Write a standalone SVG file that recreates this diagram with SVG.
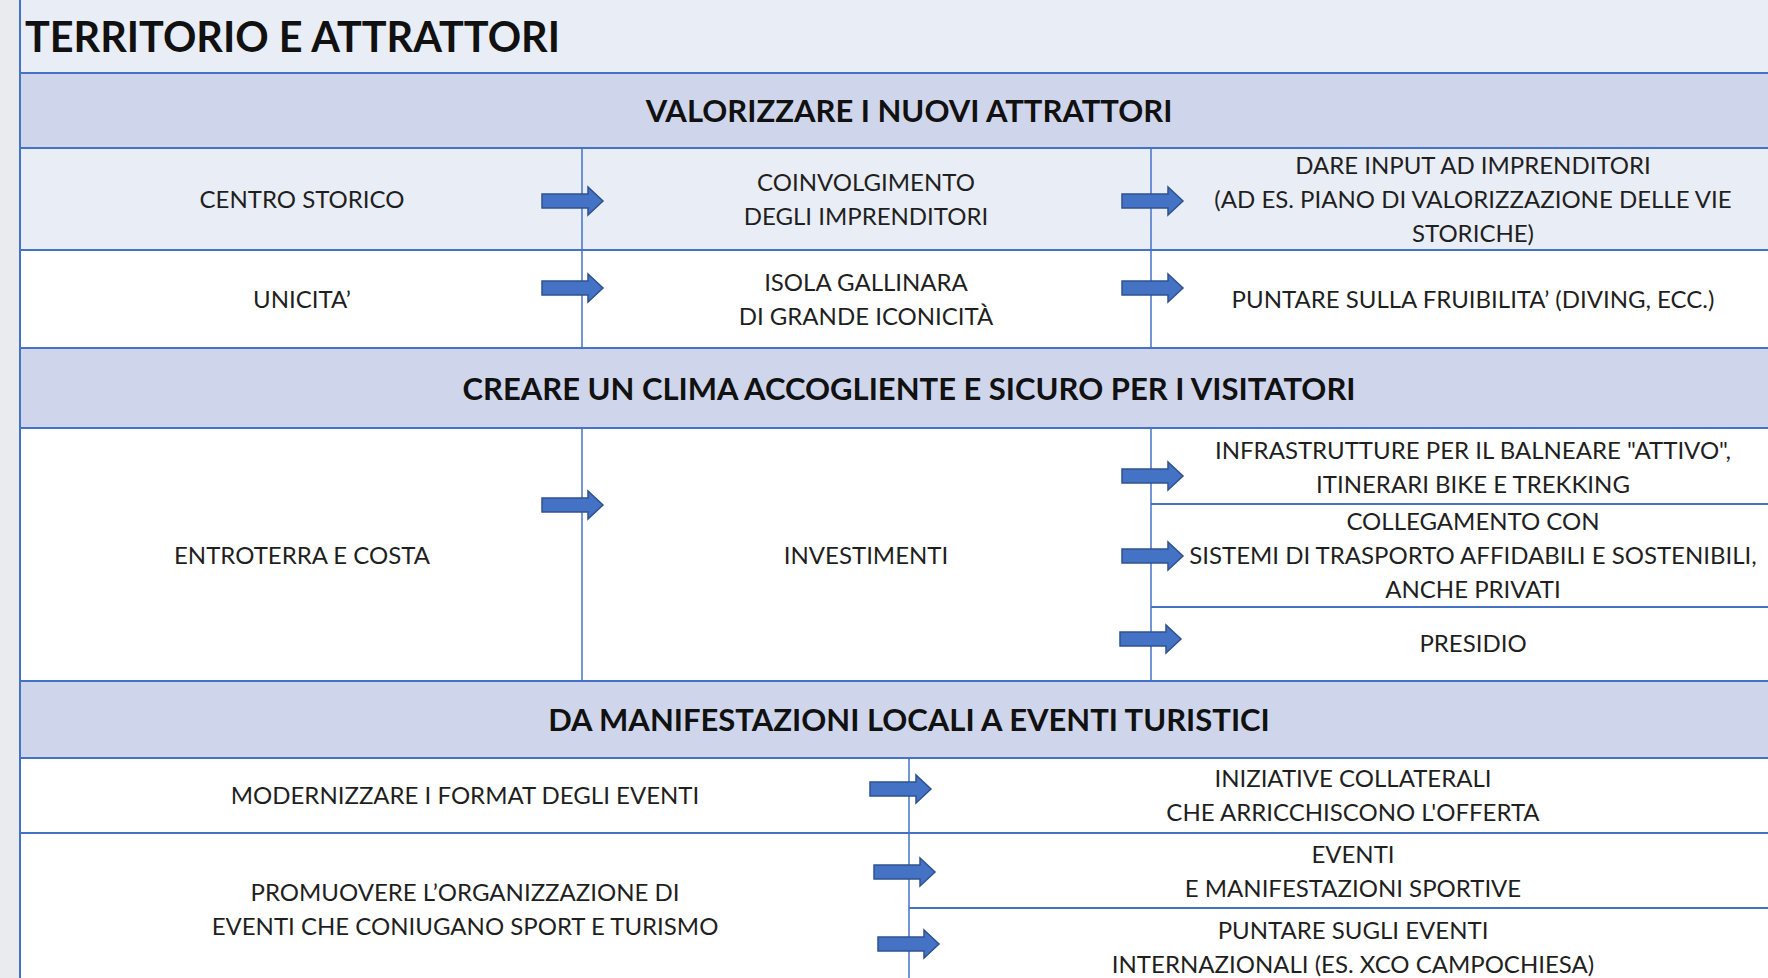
<svg xmlns="http://www.w3.org/2000/svg" width="1768" height="978" viewBox="0 0 1768 978">
<style>
.t{font-family:Lato,"Open Sans","Liberation Sans",sans-serif;fill:#1f1f1f;text-anchor:middle}
.b{font-size:24px}
.h{font-size:31px;font-weight:bold;fill:#111}
.ln{stroke:#4472c4;stroke-width:2;fill:none}
.vl{stroke:#4472c4;stroke-width:1.5;fill:none}
.arr{fill:#4472c4;stroke:#2f528f;stroke-width:1.5}
</style>
<defs>
<path id="ar" d="M0,-7 H46 V-14 L61,0 L46,14 V7 H0 Z"/>
</defs>
<rect x="0" y="0" width="1768" height="978" fill="#ffffff"/>
<rect x="0" y="0" width="20" height="978" fill="#eaebee"/>
<rect x="20" y="0" width="1748" height="73" fill="#e9edf6"/>
<rect x="20" y="73" width="1748" height="75" fill="#cfd6eb"/>
<rect x="20" y="148" width="1748" height="102" fill="#e9edf6"/>
<rect x="20" y="348" width="1748" height="80" fill="#cfd6eb"/>
<rect x="20" y="681" width="1748" height="77" fill="#cfd6eb"/>

<g id="grid">
<line class="ln" x1="20" y1="0" x2="20" y2="978"/>
<line class="ln" x1="20" y1="73" x2="1768" y2="73"/>
<line class="ln" x1="20" y1="148" x2="1768" y2="148"/>
<line class="ln" x1="20" y1="250" x2="1768" y2="250"/>
<line class="ln" x1="20" y1="348" x2="1768" y2="348"/>
<line class="ln" x1="20" y1="428" x2="1768" y2="428"/>
<line class="ln" x1="20" y1="681" x2="1768" y2="681"/>
<line class="ln" x1="20" y1="758" x2="1768" y2="758"/>
<line class="ln" x1="20" y1="833" x2="1768" y2="833"/>
<line class="ln" x1="1151" y1="504" x2="1768" y2="504"/>
<line class="ln" x1="1151" y1="607" x2="1768" y2="607"/>
<line class="ln" x1="909" y1="908" x2="1768" y2="908"/>
<line class="vl" x1="582" y1="148" x2="582" y2="348"/>
<line class="vl" x1="1151" y1="148" x2="1151" y2="348"/>
<line class="vl" x1="582" y1="428" x2="582" y2="681"/>
<line class="vl" x1="1151" y1="428" x2="1151" y2="681"/>
<line class="vl" x1="909" y1="758" x2="909" y2="978"/>
</g>

<g id="title"><text class="t" x="25" y="52" textLength="535" lengthAdjust="spacingAndGlyphs" style="text-anchor:start;font-size:42px;font-weight:bold;fill:#111">TERRITORIO E ATTRATTORI</text></g>
<g id="header1"><text class="t h" x="909" y="122">VALORIZZARE I NUOVI ATTRATTORI</text></g>
<g id="header2"><text class="t h" x="909" y="400">CREARE UN CLIMA ACCOGLIENTE E SICURO PER I VISITATORI</text></g>
<g id="header3"><text class="t h" x="909" y="731">DA MANIFESTAZIONI LOCALI A EVENTI TURISTICI</text></g>

<g id="centro-storico"><text class="t b" x="302" y="208">CENTRO STORICO</text></g>
<g id="coinvolgimento"><text class="t b" x="866" y="191">COINVOLGIMENTO</text><text class="t b" x="866" y="225">DEGLI IMPRENDITORI</text></g>
<g id="dare-input"><text class="t b" x="1473" y="174">DARE INPUT AD IMPRENDITORI</text><text class="t b" x="1473" y="208">(AD ES. PIANO DI VALORIZZAZIONE DELLE VIE</text><text class="t b" x="1473" y="242">STORICHE)</text></g>
<g id="unicita"><text class="t b" x="302" y="308">UNICITA’</text></g>
<g id="isola"><text class="t b" x="866" y="291">ISOLA GALLINARA</text><text class="t b" x="866" y="325">DI GRANDE ICONICITÀ</text></g>
<g id="fruibilita"><text class="t b" x="1473" y="308">PUNTARE SULLA FRUIBILITA’ (DIVING, ECC.)</text></g>
<g id="entroterra"><text class="t b" x="302" y="564">ENTROTERRA E COSTA</text></g>
<g id="investimenti"><text class="t b" x="866" y="564">INVESTIMENTI</text></g>
<g id="infrastrutture"><text class="t b" x="1473" y="459">INFRASTRUTTURE PER IL BALNEARE "ATTIVO",</text><text class="t b" x="1473" y="493">ITINERARI BIKE E TREKKING</text></g>
<g id="collegamento"><text class="t b" x="1473" y="530">COLLEGAMENTO CON</text><text class="t b" x="1473" y="564">SISTEMI DI TRASPORTO AFFIDABILI E SOSTENIBILI,</text><text class="t b" x="1473" y="598">ANCHE PRIVATI</text></g>
<g id="presidio"><text class="t b" x="1473" y="652">PRESIDIO</text></g>
<g id="modernizzare"><text class="t b" x="465" y="804">MODERNIZZARE I FORMAT DEGLI EVENTI</text></g>
<g id="promuovere"><text class="t b" x="465" y="901">PROMUOVERE L’ORGANIZZAZIONE DI</text><text class="t b" x="465" y="935">EVENTI CHE CONIUGANO SPORT E TURISMO</text></g>
<g id="iniziative"><text class="t b" x="1353" y="787">INIZIATIVE COLLATERALI</text><text class="t b" x="1353" y="821">CHE ARRICCHISCONO L'OFFERTA</text></g>
<g id="eventi-sportivi"><text class="t b" x="1353" y="863">EVENTI</text><text class="t b" x="1353" y="897">E MANIFESTAZIONI SPORTIVE</text></g>
<g id="internazionali"><text class="t b" x="1353" y="939">PUNTARE SUGLI EVENTI</text><text class="t b" x="1353" y="973">INTERNAZIONALI (ES. XCO CAMPOCHIESA)</text></g>

<g id="connectors">
<use href="#ar" class="arr" x="542" y="201"/>
<use href="#ar" class="arr" x="542" y="288"/>
<use href="#ar" class="arr" x="1122" y="201"/>
<use href="#ar" class="arr" x="1122" y="288"/>
<use href="#ar" class="arr" x="542" y="505"/>
<use href="#ar" class="arr" x="1122" y="476"/>
<use href="#ar" class="arr" x="1122" y="556"/>
<use href="#ar" class="arr" x="1120" y="639"/>
<use href="#ar" class="arr" x="870" y="789"/>
<use href="#ar" class="arr" x="874" y="872"/>
<use href="#ar" class="arr" x="878" y="944"/>
</g>
</svg>
